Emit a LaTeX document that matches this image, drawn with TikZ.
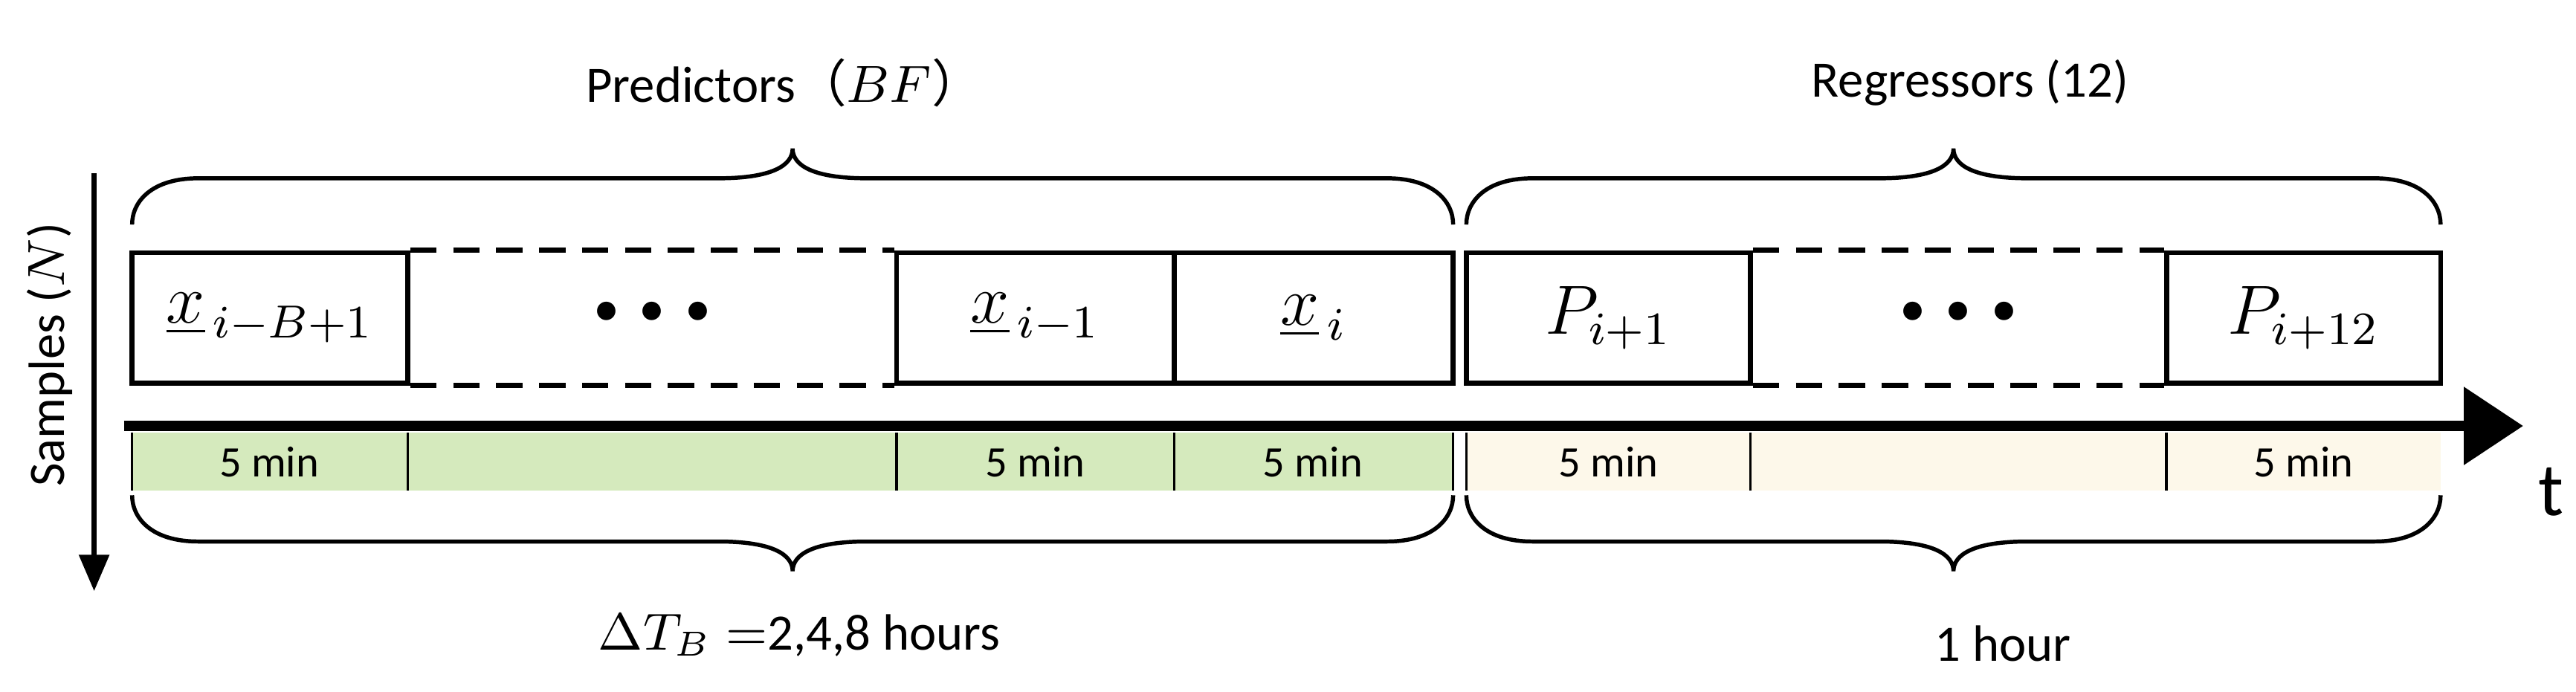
\documentclass[tikz,border=0pt]{standalone}
\usepackage{fontspec}
\setmainfont{Carlito}
\newfontfamily\cjk{Noto Sans CJK SC}
\usetikzlibrary{arrows.meta}
\definecolor{pgreen}{HTML}{D5EABD}
\definecolor{pyell}{HTML}{FDF8EA}
\tikzset{
  cell/.style={draw, line width=0.85pt, minimum width={(#1)*0.1mm}, minimum height=7.9mm, inner sep=0, font=\fontsize{12}{14}\selectfont},
  strip/.style={minimum height=3.5mm, inner sep=0, font=\fontsize{7.5}{9}\selectfont},
  brc/.style={line width=0.7pt},
  thin/.style={line width=0.45pt},
  dsh/.style={line width=0.85pt, dash pattern=on 1.6mm off 1mm},
  dots/.style={font=\fontsize{9}{10}\selectfont},
}
\newcommand\hbrace[4]{%
  \pgfmathsetmacro\xm{(#1+#2)/2}
  \draw[brc] (#1,#3) .. controls (#1,{#3+(#4)*14}) and ({#1+12},{#3+(#4)*28}) .. ({#1+40},{#3+(#4)*28})
    -- ({\xm-45},{#3+(#4)*28}) .. controls ({\xm-12},{#3+(#4)*28}) and (\xm,{#3+(#4)*36}) .. (\xm,{#3+(#4)*46})
    .. controls (\xm,{#3+(#4)*36}) and ({\xm+12},{#3+(#4)*28}) .. ({\xm+45},{#3+(#4)*28})
    -- ({#2-40},{#3+(#4)*28}) .. controls ({#2-12},{#3+(#4)*28}) and (#2,{#3+(#4)*14}) .. (#2,#3);}
\begin{document}
\begin{tikzpicture}[x=0.1mm,y=-0.1mm]
\useasboundingbox (0,0) rectangle (1560,419);
% strips
\fill[pgreen] (80,262) rectangle (880,297);
\fill[pyell] (888,262) rectangle (1478,297);
\foreach \x in {80,247,543,711,880,888,1060,1312} \draw[thin] (\x,262) -- (\x,297);
\node[strip] (s1) at (163,280) {5 min};
\node[strip] (s2) at (627,280) {5 min};
\node[strip] (s3) at (795,280) {5 min};
\node[strip] (s4) at (974,280) {5 min};
\node[strip] (s5) at (1395,280) {5 min};
% boxes
\node[cell=167] (b1) at (163.5,192.5) {$\underline{x}_{\,i-B+1}$};
\node[cell=168] (b3) at (627,192.5) {$\underline{x}_{\,i-1}$};
\node[cell=169] (b4) at (795.5,192.5) {$\underline{x}_{\,i}$};
\node[cell=172] (r1) at (974,192.5) {$P_{i+1}$};
\node[cell=166] (r3) at (1395,192.5) {$P_{i+12}$};
\node[dots] (d1) at (395,190) {\textbullet\hspace{1.2mm}\textbullet\hspace{1.2mm}\textbullet};
\node[dots] (d2) at (1186,190) {\textbullet\hspace{1.2mm}\textbullet\hspace{1.2mm}\textbullet};
\draw[dsh] (b1.north east) -- (b3.north west);
\draw[dsh] (b1.south east) -- (b3.south west);
\draw[dsh] (r1.north east) -- (r3.north west);
\draw[dsh] (r1.south east) -- (r3.south west);
% axis
\coordinate (a0) at (75,258);
\coordinate (a1) at (1528,258);
\draw[line width=1.7pt, -{Triangle[length=3.6mm,width=4.6mm]}] (a0) -- (a1);
\node[font=\fontsize{13}{15}\selectfont] (t) at (1545,298) {t};
% vertical axis
\coordinate (v0) at (57,105);
\coordinate (v1) at (57,358);
\draw[line width=0.8pt, -{Triangle[length=2.2mm,width=1.8mm]}] (v0) -- (v1);
\node[rotate=90, font=\fontsize{8.8}{10}\selectfont] (samp) at (30,215) {Samples ($N$)};
% braces
\hbrace{80}{880}{136}{-1}
\hbrace{888}{1478}{136}{-1}
\hbrace{80}{880}{300}{1}
\hbrace{888}{1478}{300}{1}
% titles
\node[font=\fontsize{8.8}{10}\selectfont] (pt) at (475,50) {Predictors{\cjk （}$BF${\cjk ）}};
\node[font=\fontsize{8.8}{10}\selectfont] (rt) at (1193,50) {Regressors (12)};
\node[font=\fontsize{8.8}{10}\selectfont] (dt) at (484,385) {$\Delta T_B=$2,4,8 hours};
\node[font=\fontsize{8.8}{10}\selectfont] (oh) at (1213,390) {1 hour};
\end{tikzpicture}
\end{document}
